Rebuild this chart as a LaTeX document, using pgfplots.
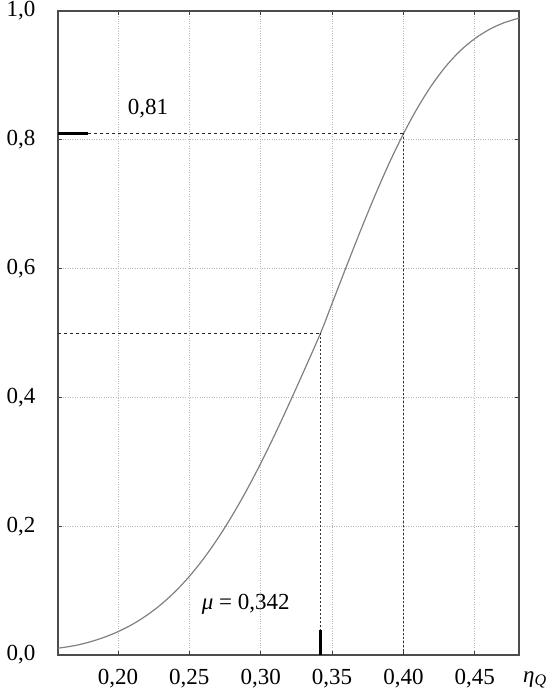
\documentclass[border=0pt]{standalone}
\usepackage{pgfplots}
\pgfplotsset{compat=1.18}
\usepackage{fontspec}
\setmainfont{Liberation Serif}
\begin{document}
\begin{tikzpicture}
\begin{axis}[
  scale only axis,
  width=461pt, height=644pt,
  xmin=0.158, xmax=0.481, ymin=0, ymax=1,
  xtick={0.20,0.25,0.30,0.35,0.40,0.45},
  ytick={0,0.2,0.4,0.6,0.8,1.0},
  tick align=inside,
  major tick length=4pt,
  tick style={color=black!75, line width=0.8pt},
  axis line style={color=black!70, line width=1.3pt},
  grid=major,
  major grid style={color=black!28, dotted, line width=0.8pt},
  /pgf/number format/assume math mode=true,
  /pgf/number format/use comma,
  xticklabel style={/pgf/number format/fixed, /pgf/number format/fixed zerofill, /pgf/number format/precision=2, yshift=-11pt},
  yticklabel style={/pgf/number format/fixed, /pgf/number format/fixed zerofill, /pgf/number format/precision=1, xshift=-19pt},
  ticklabel style={font=\fontsize{23}{26}\selectfont},
  clip=false,
]
\addplot[smooth, color=black!50, line width=1.2pt] table {
x y
0.158 0.0105
0.17 0.0147
0.18 0.0201
0.19 0.0272
0.20 0.0362
0.21 0.0474
0.22 0.0613
0.23 0.0781
0.24 0.0983
0.25 0.1220
0.26 0.1496
0.27 0.1811
0.28 0.2163
0.29 0.2552
0.30 0.2974
0.31 0.3427
0.32 0.3904
0.33 0.4396
0.342 0.5000
0.35 0.5457
0.36 0.6029
0.37 0.6591
0.38 0.7130
0.39 0.7635
0.40 0.8092
0.41 0.8500
0.42 0.8853
0.43 0.9148
0.44 0.9386
0.45 0.9570
0.46 0.9711
0.47 0.9813
0.481 0.9890
};
\addplot[black!85, dashed, line width=0.9pt] coordinates {(0.179,0.81) (0.40,0.81)};
\addplot[black!80, dash pattern=on 2pt off 2pt, line width=1.3pt] coordinates {(0.40,0.81) (0.40,0)};
\addplot[black!85, dashed, line width=0.9pt] coordinates {(0.158,0.5) (0.342,0.5)};
\addplot[black!80, dash pattern=on 2pt off 2pt, line width=1.3pt] coordinates {(0.342,0.5) (0.342,0)};
\addplot[black, line width=3pt] coordinates {(0.158,0.81) (0.179,0.81)};
\addplot[black, line width=3pt] coordinates {(0.342,0) (0.342,0.039)};
\node[font=\fontsize{23}{26}\selectfont] at (axis cs:0.221,0.849) {0,81};
\node[font=\fontsize{23}{26}\selectfont] at (axis cs:0.2896,0.078) {\textit{μ} = 0,342};
\node[font=\fontsize{23}{26}\selectfont, anchor=center] at (rel axis cs:1,0) [xshift=16pt, yshift=-25pt] {\textit{η}\textsubscript{\textit{Q}}};
\end{axis}
\pgfresetboundingbox
\path[use as bounding box] ([xshift=-58pt,yshift=-40pt]current axis.south west) rectangle ([xshift=33pt,yshift=11pt]current axis.north east);
\end{tikzpicture}
\end{document}
